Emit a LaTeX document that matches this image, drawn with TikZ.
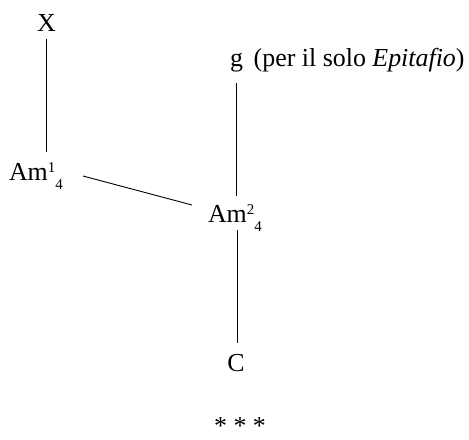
\documentclass[tikz,border=0pt]{standalone}
\usepackage{fontspec}
\setmainfont{Liberation Serif}
\newcommand{\supsub}[2]{\raisebox{8bp}{\fontsize{15}{15}\selectfont #1}\raisebox{-8.5bp}{\fontsize{15}{15}\selectfont #2}}
\begin{document}
\begin{tikzpicture}[x=1bp,y=-1bp,
  lbl/.style={inner sep=0pt,outer sep=0pt,font=\fontsize{26}{30}\selectfont},
  conn/.style={line width=0.9bp,draw=black}]
\useasboundingbox (0,0) rectangle (469,440);
\node[lbl,anchor=base] (X) at (46.5,32) {X};
\node[lbl,anchor=base west] (Am1) at (9,181) {Am\supsub{1}{4}};
\node[lbl,anchor=base west] (Am2) at (208,223) {Am\supsub{2}{4}};
\node[lbl,anchor=base west] (g) at (230,67) {g\, (per il solo \textit{Epitafio})};
\node[lbl,anchor=base] (C) at (236,371) {C};
\node[lbl,anchor=base] (stars) at (240,434) {*\ *\ *};
\draw[conn] ([shift={(0,7)}]X.base) -- ([shift={(37.5,-29)}]Am1.base west);
\draw[conn] ([shift={(74,-5)}]Am1.base west) -- ([shift={(-16,-18)}]Am2.base west);
\draw[conn] ([shift={(6,16)}]g.base west) -- ([shift={(28,-27)}]Am2.base west);
\draw[conn] ([shift={(29,7)}]Am2.base west) -- ([shift={(1,-28)}]C.base);
\end{tikzpicture}
\end{document}
